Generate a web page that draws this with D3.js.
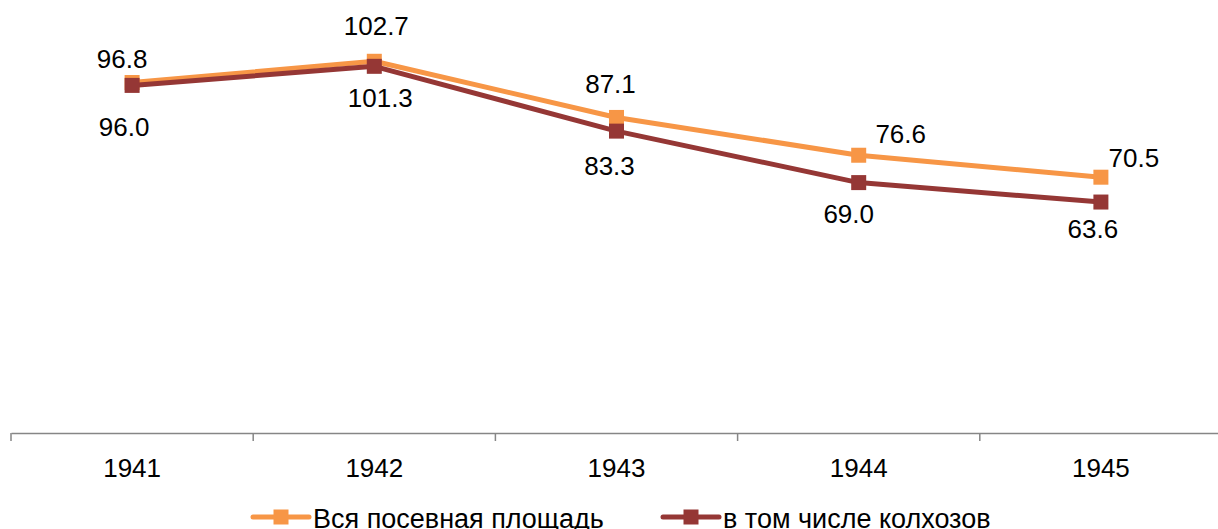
<!DOCTYPE html>
<html>
<head>
<meta charset="utf-8">
<script src="https://cdn.jsdelivr.net/npm/d3@7/dist/d3.min.js"></script>
<style>
  html, body { margin: 0; padding: 0; background: #fff; overflow: hidden; }
  svg { display: block; }
  text { font-family: "Liberation Sans", Arial, sans-serif; fill: #000; }
</style>
</head>
<body>
<svg id="chart" width="1218" height="529"></svg>
<script>
// ---- data ----
const years = ["1941", "1942", "1943", "1944", "1945"];
const seriesNames = ["Вся посевная площадь", "в том числе колхозов"];
const totalArea = [96.8, 102.7, 87.1, 76.6, 70.5];
const kolkhozArea = [96.0, 101.3, 83.3, 69.0, 63.6];
const colors = ["#F79646", "#953735"];

// label placement (offsets from point, px) — styling only
const totalLabelOffsets = [[-10, -15], [2, -26], [-6, -24], [42, -12], [33, -10]];
const kolkhozLabelOffsets = [[-8, 51], [6, 41], [-7, 44], [-10, 40], [-8, 36]];

const svg = d3.select("#chart");

const x = d3.scaleBand().domain(years).range([11, 1222]).padding(0);
const y = d3.scaleLinear().domain([0, 120]).range([431, -1]);
const axisY = 433;

// x axis
const xAxis = d3.axisBottom(x).tickSize(8).tickSizeOuter(0).tickFormat(d => d);
const gx = svg.append("g").attr("transform", `translate(0,${axisY})`).call(xAxis);
gx.select(".domain").attr("stroke", "#868686").attr("stroke-width", 1.5);
gx.selectAll(".tick line").remove();
gx.selectAll(".tick text").attr("font-size", 26).attr("dy", "1.25em")
  .style("font-family", '"Liberation Sans", Arial, sans-serif').attr("fill", "#000");
// category boundary ticks
const boundaries = years.map(d => x(d)).concat([x(years[years.length - 1]) + x.bandwidth()]);
svg.append("g").selectAll("line").data(boundaries).join("line")
  .attr("x1", d => d).attr("x2", d => d)
  .attr("y1", axisY).attr("y2", axisY + 8)
  .attr("stroke", "#868686").attr("stroke-width", 1.5);

const cx = d => x(d) + x.bandwidth() / 2;

const series = [
  { name: seriesNames[0], values: totalArea, color: colors[0], offs: totalLabelOffsets },
  { name: seriesNames[1], values: kolkhozArea, color: colors[1], offs: kolkhozLabelOffsets }
];

const line = d3.line().x((d, i) => cx(years[i])).y(d => y(d));

series.forEach(s => {
  svg.append("path").datum(s.values)
    .attr("fill", "none").attr("stroke", s.color).attr("stroke-width", 5)
    .attr("stroke-linejoin", "round").attr("d", line);
  svg.append("g").selectAll("rect").data(s.values).join("rect")
    .attr("x", (d, i) => cx(years[i]) - 7.5).attr("y", d => y(d) - 7.5)
    .attr("width", 15).attr("height", 15).attr("fill", s.color);
});

series.forEach(s => {
  svg.append("g").selectAll("text").data(s.values).join("text")
    .attr("x", (d, i) => cx(years[i]) + s.offs[i][0])
    .attr("y", (d, i) => y(d) + s.offs[i][1])
    .attr("text-anchor", "middle").attr("font-size", 26)
    .text(d => d.toFixed(1));
});

// legend
const legendItems = [
  { name: seriesNames[0], color: colors[0], x0: 253 },
  { name: seriesNames[1], color: colors[1], x0: 663 }
];
const lg = svg.append("g");
legendItems.forEach(it => {
  lg.append("line").attr("x1", it.x0).attr("x2", it.x0 + 56)
    .attr("y1", 517).attr("y2", 517).attr("stroke", it.color)
    .attr("stroke-width", 5).attr("stroke-linecap", "round");
  lg.append("rect").attr("x", it.x0 + 28 - 7.5).attr("y", 517 - 7.5)
    .attr("width", 15).attr("height", 15).attr("fill", it.color);
  lg.append("text").attr("x", it.x0 + 60).attr("y", 528)
    .attr("font-size", 27).text(it.name);
});
</script>
</body>
</html>
